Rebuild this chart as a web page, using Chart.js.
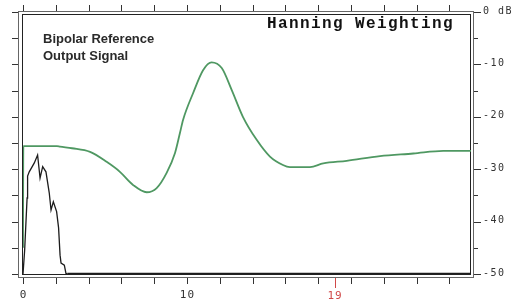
<!DOCTYPE html>
<html><head><meta charset="utf-8">
<script src="https://cdn.jsdelivr.net/npm/chart.js@4/dist/chart.umd.min.js"></script>
<style>html,body{margin:0;padding:0;background:#fff;}#wrap{width:520px;height:302px;position:relative;}</style>
</head><body><div id="wrap"><canvas id="c" width="520" height="302"></canvas></div>
<script>
// ---- data ----
const hanningX  = [0, 0.02, 1.0, 2.07, 2.26, 2.99, 4.09, 5.1, 5.91, 6.71, 7.54, 8.15, 8.76, 9.27, 9.57, 9.76, 10.37, 10.98, 11.5, 12.12, 12.73, 13.41, 14.25, 15.06, 15.85, 16.28, 17.5, 18.31, 19.74, 21.77, 23.8, 25.63, 27.32];
const hanningDb = [-45, -25.6, -25.6, -25.6, -25.7, -26.0, -26.7, -28.6, -30.5, -33.0, -34.4, -33.6, -30.7, -26.9, -23.1, -20.6, -15.5, -11.1, -9.6, -10.7, -14.9, -20.0, -24.4, -27.6, -29.2, -29.6, -29.6, -28.9, -28.4, -27.5, -27.0, -26.5, -26.5];
const outputX  = [0, 0.1, 0.25, 0.28, 0.38, 0.69, 0.89, 1.04, 1.2, 1.4, 1.6, 1.71, 1.85, 2.05, 2.17, 2.26, 2.32, 2.52, 2.62, 2.7, 27.32];
const outputDb = [-50, -45.5, -35.5, -31.3, -30.5, -28.8, -27.3, -31.7, -29.5, -30.5, -34.5, -37.8, -36.2, -38.1, -41.2, -46.4, -47.9, -48.3, -49.9, -50, -50];
const xTickValues = [0, 2, 4, 6, 8, 10, 12, 14, 16, 18, 20, 22, 24, 26];
const xLabelValues = [0, 10];
const xLabelTexts = ['0', '10'];
const markerValue = 19;
const markerText = '19';
const yTickValues = [0, -5, -10, -15, -20, -25, -30, -35, -40, -45, -50];
const yLabelValues = [0, -10, -20, -30, -40, -50];
const yLabelTexts = ['0 dB', '-10', '-20', '-30', '-40', '-50'];
const titleText = 'Hanning Weighting';
const noteLines = ['Bipolar Reference', 'Output Signal'];

const toPts = (xs, ys) => xs.map((x, i) => ({x: x, y: ys[i]}));

const decor = {
  id: 'decor',
  beforeDatasetsDraw(chart) {
    const c = chart.ctx, xs = chart.scales.x, ys = chart.scales.y;
    c.save();
    c.lineWidth = 1;
    c.strokeStyle = '#666';
    c.strokeRect(18.5, 11.5, 455, 266);
    c.strokeStyle = '#222';
    c.strokeRect(22.5, 14.5, 448, 260);
    c.strokeStyle = '#333';
    c.beginPath();
    xTickValues.forEach(v => {
      const px = Math.round(xs.getPixelForValue(v)) + 0.5;
      c.moveTo(px, 5); c.lineTo(px, 11);
      c.moveTo(px, 278); c.lineTo(px, 284);
    });
    yTickValues.forEach(v => {
      const py = Math.round(ys.getPixelForValue(v)) + 0.5;
      const major = v % 10 === 0;
      c.moveTo(12, py); c.lineTo(18, py);
      c.moveTo(474, py); c.lineTo(major ? 481 : 478, py);
    });
    c.stroke();
    const mx = Math.round(xs.getPixelForValue(markerValue)) + 0.5;
    c.strokeStyle = '#d04848';
    c.beginPath(); c.moveTo(mx, 278); c.lineTo(mx, 288); c.stroke();
    c.restore();
  },
  afterDraw(chart) {
    const c = chart.ctx, xs = chart.scales.x, ys = chart.scales.y;
    c.save();
    c.fillStyle = '#111';
    c.font = 'bold 16px "Liberation Mono"';
    c.letterSpacing = '1.4px';
    c.textAlign = 'left'; c.textBaseline = 'alphabetic';
    c.fillText(titleText, 267, 28);
    c.letterSpacing = '0px';
    c.fillStyle = '#2a2a2a';
    c.font = 'bold 13px "Liberation Sans"';
    c.fillText(noteLines[0], 43, 43);
    c.fillText(noteLines[1], 43, 60);
    c.font = '10px "DejaVu Sans Mono"';
    c.letterSpacing = '1.5px';
    c.fillStyle = '#333';
    c.textBaseline = 'middle';
    yLabelValues.forEach((v, i) => {
      c.fillText(yLabelTexts[i], 483, ys.getPixelForValue(v) - 1);
    });
    c.font = '11px "DejaVu Sans Mono"';
    c.letterSpacing = '1px';
    c.textAlign = 'center';
    xLabelValues.forEach((v, i) => {
      c.fillText(xLabelTexts[i], xs.getPixelForValue(v) + 0.5, 295);
    });
    c.fillStyle = '#d04848';
    c.fillText(markerText, xs.getPixelForValue(markerValue) + 0.5, 296);
    c.restore();
  }
};

new Chart(document.getElementById('c'), {
  type: 'scatter',
  data: {
    datasets: [
      {
        data: toPts(hanningX, hanningDb),
        showLine: true, pointRadius: 0, borderColor: '#4f9862', borderWidth: 1.8,
        cubicInterpolationMode: 'monotone'
      },
      {
        data: toPts(outputX, outputDb),
        showLine: true, pointRadius: 0, borderColor: '#1c1c1c', borderWidth: 1.3, tension: 0,
        segment: {
          borderWidth: ctx => (ctx.p0.parsed.y === -50 && ctx.p1.parsed.y === -50) ? 2.5 : 1.3
        }
      }
    ]
  },
  options: {
    responsive: false,
    animation: false,
    layout: { padding: { left: 23, right: 49, top: 12, bottom: 28 } },
    plugins: { legend: { display: false }, tooltip: { enabled: false } },
    scales: {
      x: { type: 'linear', min: 0, max: 27.32, display: false },
      y: { type: 'linear', min: -50, max: 0, display: false }
    }
  },
  plugins: [decor]
});
</script>
</body></html>
